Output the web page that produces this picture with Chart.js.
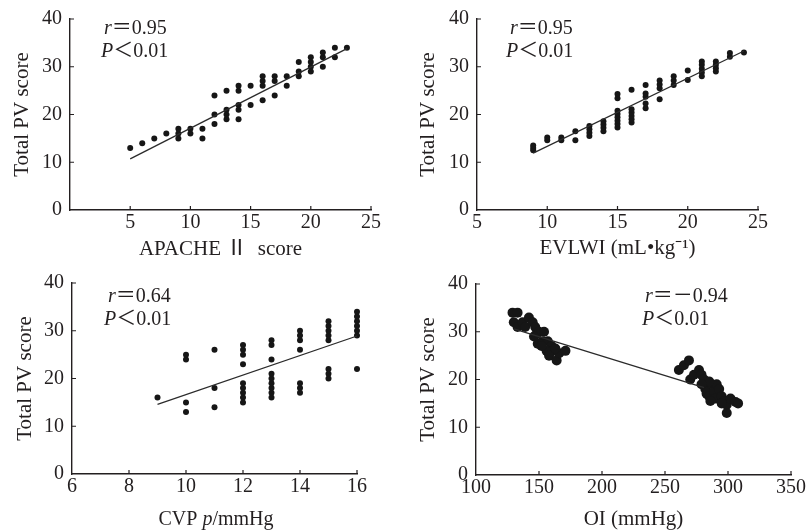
<!DOCTYPE html>
<html>
<head>
<meta charset="utf-8">
<script src="https://cdn.jsdelivr.net/npm/chart.js@4.4.1/dist/chart.umd.min.js"></script>
<style>
  html, body { margin: 0; padding: 0; background: #fff; }
  #wrap { position: relative; width: 809px; height: 530px; overflow: hidden; }
  #wrap canvas { position: absolute; }
</style>
</head>
<body>
<div id="wrap">
  <canvas id="c1"></canvas>
  <canvas id="c2"></canvas>
  <canvas id="c3"></canvas>
  <canvas id="c4"></canvas>
</div>
<script>
(function(){
// APACHE II score vs total PV score
const apacheX = [5,6,7,8,9,9,9,10,10,11,11,12,12,12,13,13,13,13,14,14,14,14,14,15,15,16,16,16,16,17,17,17,18,18,19,19,19,20,20,20,20,21,21,21,22,22,23];
const apacheY = [13,14,15,16,15,16,17,16,17,15,17,18,20,24,19,20,21,25,19,21,22,25,26,22,26,23,26,27,28,24,27,28,26,28,28,29,31,29,30,31,32,30,32,33,32,34,34];
const apacheFitX = [5, 23];
const apacheFitY = [10.7, 33.8];

// EVLWI vs total PV score
const evlwiX = [9,9,9,10,10,11,11,12,12,13,13,13,13,14,14,14,14,
  15,15,15,15,15,15,15,15,16,16,16,16,16,16,17,17,17,17,17,18,18,18,18,
  19,19,19,20,20,21,21,21,21,21,22,22,22,22,23,23,24];
const evlwiY = [12.5,13,13.5,14.6,15.2,14.6,15.2,14.6,16.5,15.5,16.2,16.9,17.6,16.5,17.2,17.9,18.6,
  17.3,18,18.7,19.4,20.1,20.8,23.4,24.3,18.3,19,19.7,20.4,21.1,25.2,21.3,22.3,23.7,24.4,26.2,23.2,25.5,26.3,27.1,
  26.2,27.1,28,27.2,29.2,28,28.8,29.6,30.4,31.1,29,29.7,30.4,31.1,32.1,32.9,33];
const evlwiFitX = [9, 24];
const evlwiFitY = [11.9, 33.3];

// CVP vs total PV score
const cvpX = [9,10,10,10,10,11,11,11,12,12,12,12,12,12,12,12,12,13,13,13,13,13,13,13,13,13,
  14,14,14,14,14,14,14,15,15,15,15,15,15,15,15,16,16,16,16,16,16,16];
const cvpY = [16,13,15,24,25,14,18,26,15,16,17,18,19,23,25,26,27,16,17,18,19,20,21,24,27,28,
  17,18,19,26,28,29,30,20,21,22,28,29,30,31,32,22,29,30,31,32,33,34];
const cvpFitX = [9, 16];
const cvpFitY = [14.6, 28.9];

// OI vs total PV score
const oiX = [129,133,130,133,137,139,142,145,147,148,150,154,146,149,153,157,160,156,161,158,164,166,171,152,163,
  261,265,269,270,273,277,279,281,283,282,285,287,289,290,291,293,295,286,297,299,299,302,306,308,285,279,295];
const oiY = [34,34,32,31,32,31,33,32,31,29.5,30,30,29,27.5,28,28,27,26,26,25,24,25.5,26,27,26.5,
  22,23,24,20,21,22,21,20,17,18,16.5,19,17.5,16,19,18,16.5,15.5,15.5,14.7,13,16,15.3,15,19.6,19,15];
const oiFitX = [130, 281];
const oiFitY = [30.6, 18.3];

const scoreTicks = [0, 10, 20, 30, 40];
const apacheTicks = [5, 10, 15, 20, 25];
const evlwiTicks = [5, 10, 15, 20, 25];
const cvpTicks = [6, 8, 10, 12, 14, 16];
const oiTicks = [100, 150, 200, 250, 300, 350];

const rValues = ['0.95', '0.95', '0.64', '－0.94'];
const pValues = ['0.01', '0.01', '0.01', '0.01'];

const INK = '#231f20';
const FAMILY = '"Liberation Serif", "Times New Roman", "Noto Sans CJK SC", serif';

Chart.defaults.font.family = FAMILY;
Chart.defaults.color = INK;

const toPoints = (xs, ys) => xs.map((x, i) => ({x: x, y: ys[i]}));

function drawRuns(ctx, runs, x, y, align) {
  const font = (it) => (it ? 'italic ' : '') + '20px ' + FAMILY;
  let total = 0;
  runs.forEach(r => { ctx.font = font(r[1]); total += ctx.measureText(r[0]).width; });
  let cx = align === 'center' ? x - total / 2 : x;
  ctx.textBaseline = 'middle';
  ctx.textAlign = 'left';
  runs.forEach(r => {
    ctx.font = font(r[1]);
    ctx.fillText(r[0], cx, y);
    cx += ctx.measureText(r[0]).width;
  });
}

const notes = {
  id: 'notes',
  afterDraw(chart, args, opts) {
    const {ctx, chartArea: a} = chart;
    ctx.save();
    ctx.fillStyle = INK;
    (opts.items || []).forEach(it => drawRuns(ctx, it.runs, a.left + it.dx, a.top + it.dy, it.align));
    ctx.restore();
  }
};

const inwardTicks = {
  id: 'inwardTicks',
  afterDraw(chart) {
    const {ctx, chartArea: a, scales: {x, y}} = chart;
    ctx.save();
    ctx.strokeStyle = INK;
    ctx.lineWidth = 1.2;
    ctx.beginPath();
    x.ticks.forEach(t => {
      const px = x.getPixelForValue(t.value);
      if (px > a.left + 1) { ctx.moveTo(px, a.bottom); ctx.lineTo(px, a.bottom - 4); }
    });
    y.ticks.forEach(t => {
      const py = y.getPixelForValue(t.value);
      if (py < a.bottom - 1) { ctx.moveTo(a.left, py); ctx.lineTo(a.left + 4, py); }
    });
    ctx.stroke();
    ctx.restore();
  }
};

const panels = [
  {id: 'c1', left: 0, top: 0, w: 404, h: 265, yW: 70, xH: 55, pad: {top: 19, right: 33},
   xs: apacheX, ys: apacheY, fx: apacheFitX, fy: apacheFitY, ticks: apacheTicks, xmin: 0, xmax: 25,
   title: 'APACHE Ⅱ  score', titlePad: 5, radius: 3,
   notes: [{dx: 34, dy: 10, i: 0, kind: 'r'}, {dx: 31, dy: 33, i: 0, kind: 'p'}]},
  {id: 'c2', left: 406, top: 0, w: 403, h: 265, yW: 71, xH: 55, pad: {top: 19, right: 51},
   xs: evlwiX, ys: evlwiY, fx: evlwiFitX, fy: evlwiFitY, ticks: evlwiTicks, xmin: 5, xmax: 25,
   title: 'EVLWI (mL•kg⁻¹)', titlePad: 6, radius: 3,
   notes: [{dx: 33, dy: 10, i: 1, kind: 'r'}, {dx: 29, dy: 33, i: 1, kind: 'p'}]},
  {id: 'c3', left: 3, top: 265, w: 400, h: 265, yW: 69, xH: 56, pad: {top: 18, right: 46},
   xs: cvpX, ys: cvpY, fx: cvpFitX, fy: cvpFitY, ticks: cvpTicks, xmin: 6, xmax: 16,
   title: null, titlePad: 0, radius: 3,
   notes: [{dx: 36, dy: 14, i: 2, kind: 'r'}, {dx: 32, dy: 37, i: 2, kind: 'p'},
           {dx: 144, dy: 237, align: 'center', runs: [['CVP ', false], ['p', true], ['/mmHg', false]]}]},
  {id: 'c4', left: 406, top: 265, w: 403, h: 265, yW: 70, xH: 55, pad: {top: 19, right: 16},
   xs: oiX, ys: oiY, fx: oiFitX, fy: oiFitY, ticks: oiTicks, xmin: 100, xmax: 350,
   title: 'OI (mmHg)', titlePad: 0, radius: 5,
   notes: [{dx: 169, dy: 13, i: 3, kind: 'r'}, {dx: 166, dy: 36, i: 3, kind: 'p'}]}
];

panels.forEach(p => {
  const canvas = document.getElementById(p.id);
  canvas.width = p.w;
  canvas.height = p.h;
  canvas.style.left = p.left + 'px';
  canvas.style.top = p.top + 'px';
  canvas.style.width = p.w + 'px';
  canvas.style.height = p.h + 'px';

  const items = p.notes.map(n => {
    if (n.runs) return n;
    const runs = n.kind === 'r'
      ? [['r', true], ['＝' + rValues[n.i], false]]
      : [['P', true], ['＜' + pValues[n.i], false]];
    return {dx: n.dx, dy: n.dy, runs: runs};
  });

  new Chart(canvas, {
    type: 'scatter',
    data: {
      datasets: [{
        data: toPoints(p.fx, p.fy),
        showLine: true,
        pointRadius: 0,
        borderColor: '#2b2b2b',
        borderWidth: 1.3,
        clip: false
      }, {
        data: toPoints(p.xs, p.ys),
        pointRadius: p.radius,
        pointBackgroundColor: '#161616',
        pointBorderWidth: 0,
        clip: false
      }]
    },
    options: {
      responsive: false,
      animation: false,
      events: [],
      layout: {padding: {left: 0, top: p.pad.top, right: p.pad.right, bottom: 0}},
      plugins: {
        legend: {display: false},
        tooltip: {enabled: false},
        notes: {items: items}
      },
      scales: {
        x: {
          type: 'linear',
          min: p.xmin,
          max: p.xmax,
          afterBuildTicks: s => { s.ticks = p.ticks.map(v => ({value: v})); },
          afterFit: s => { s.height = p.xH; },
          grid: {display: false, drawTicks: false},
          border: {display: true, color: INK, width: 1.4},
          ticks: {padding: 3, font: {size: 20, lineHeight: 1}, color: INK, maxRotation: 0},
          title: {display: !!p.title, text: p.title || '', font: {size: 21, lineHeight: 1},
                  color: INK, padding: {top: 0, bottom: p.titlePad}}
        },
        y: {
          type: 'linear',
          min: 0,
          max: 40,
          afterBuildTicks: s => { s.ticks = scoreTicks.map(v => ({value: v})); },
          afterFit: s => { s.width = p.yW; },
          grid: {display: false, drawTicks: false},
          border: {display: true, color: INK, width: 1.4},
          ticks: {padding: 8, font: {size: 20, lineHeight: 1}, color: INK},
          title: {display: true, text: 'Total PV score', font: {size: 21, lineHeight: 1},
                  color: INK, padding: {top: 11.5, bottom: 0}}
        }
      }
    },
    plugins: [notes, inwardTicks]
  });
});
})();
</script>
</body>
</html>
